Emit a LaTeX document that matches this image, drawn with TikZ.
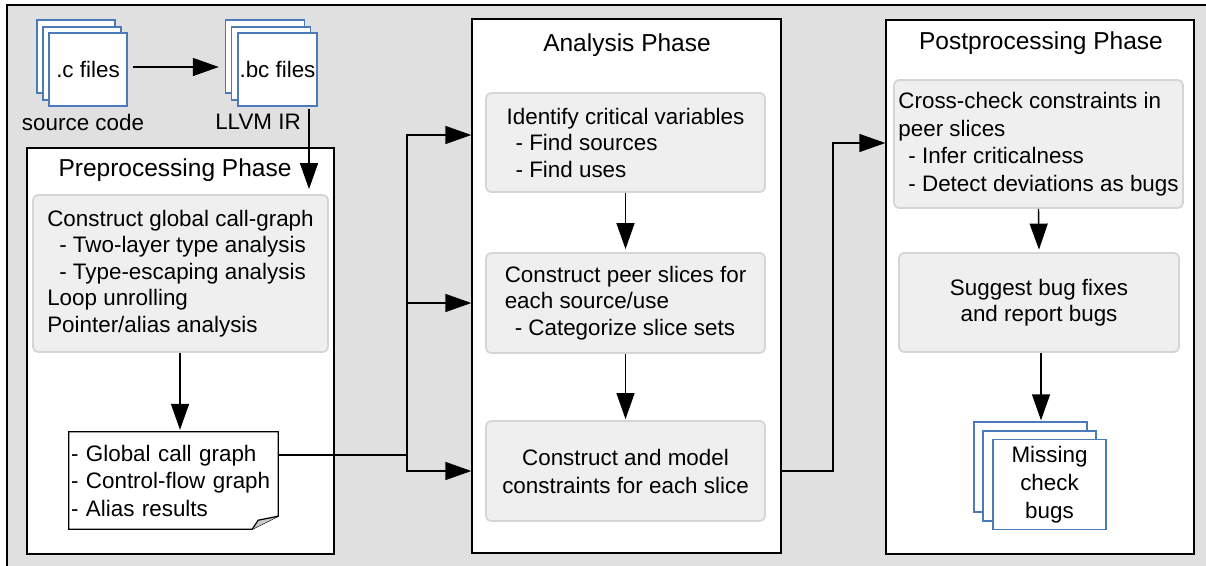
\documentclass[tikz,border=0pt]{standalone}
\usepackage{fontspec}
\setmainfont{Liberation Sans}
\usetikzlibrary{arrows.meta,calc}
\definecolor{bggray}{HTML}{E0E0E0}
\definecolor{boxfill}{HTML}{EFEFEF}
\definecolor{boxline}{HTML}{D5D5D5}
\definecolor{fileblue}{HTML}{4A7AB8}
\definecolor{foldgray}{HTML}{C8C8C8}
\begin{document}
\begin{tikzpicture}[x=1pt,y=-1pt,
  body/.style={font=\fontsize{22.4}{26.5}\selectfont},
  titletext/.style={font=\fontsize{24.5}{29}\selectfont, inner sep=0pt},
  phasebox/.style={draw=black, fill=white, line width=1.3pt, inner sep=0pt},
  graybox/.style={body, draw=boxline, fill=boxfill, line width=1.8pt, rounded corners=5pt, inner sep=0pt},
  page/.style={draw=fileblue, fill=white, line width=1.4pt, inner sep=0pt},
  conn/.style={line width=1.4pt},
  arr/.style={conn, -{Triangle[length=26pt,width=18pt]}},
]
\path[use as bounding box] (0,0) rectangle (1206,565);
\fill[bggray] (7,5) rectangle (1215,575);
\draw[line width=2pt] (7,575) -- (7,5) -- (1215,5);

% source files
\node[page, minimum width=78pt, minimum height=73pt] (cback) at (76,56.5) {};
\node[page, minimum width=78pt, minimum height=73pt] (cmid) at (82,63.5) {};
\node[page, body, minimum width=78pt, minimum height=73pt] (cfiles) at (88,69.5) {.c files};
\node[body] (srclabel) at (83,122) {source code};

\node[page, minimum width=79pt, minimum height=73pt] (bcback) at (265,56.5) {};
\node[page, minimum width=79pt, minimum height=73pt] (bcmid) at (271,63.5) {};
\node[page, body, minimum width=79pt, minimum height=73pt] (bcfiles) at (277.5,69.5) {.bc files};
\node[body] (irlabel) at (258,122) {LLVM IR};

% preprocessing phase
\node[phasebox, minimum width=307pt, minimum height=406pt] (pre) at (180.5,351) {};
\node[titletext] (pretitle) at (175,170) {Preprocessing Phase};
\node[graybox, align=left, minimum width=295pt, minimum height=157pt] (pregray) at (180.5,273.5)
  {Construct global call-graph\\\hspace*{12pt}- Two-layer type analysis\\\hspace*{12pt}- Type-escaping analysis\\Loop unrolling\\Pointer/alias analysis};
\node[font=\fontsize{22.4}{27.5}\selectfont, align=left, inner xsep=2pt, inner ysep=0pt, text width=205pt, minimum height=97pt] (notes) at (173.5,480.5)
  {- Global call graph\\- Control-flow graph\\- Alias results};
\draw[line width=1.2pt] (notes.north west) -- (notes.north east) -- ([yshift=13pt]notes.south east) -- ([xshift=-26pt]notes.south east) -- (notes.south west) -- cycle;
\filldraw[fill=foldgray, line width=1.2pt] ([yshift=13pt]notes.south east) -- ([xshift=-20pt,yshift=9pt]notes.south east) -- ([xshift=-26pt]notes.south east);

% analysis phase
\node[phasebox, minimum width=309pt, minimum height=534pt] (anal) at (626.5,286) {};
\node[titletext] (analtitle) at (627,45) {Analysis Phase};
\node[graybox, align=left, minimum width=279pt, minimum height=99pt] (a1) at (625.5,142.5)
  {Identify critical variables\\\hspace*{9pt}- Find sources\\\hspace*{9pt}- Find uses};
\node[graybox, align=left, minimum width=279pt, minimum height=100pt] (a2) at (625.5,303)
  {Construct peer slices for\\each source/use\\\hspace*{10pt}- Categorize slice sets};
\node[graybox, font=\fontsize{22.4}{28}\selectfont, align=center, minimum width=279pt, minimum height=100pt] (a3) at (625.5,471)
  {Construct and model\\constraints for each slice};

% postprocessing phase
\node[phasebox, minimum width=308pt, minimum height=534pt] (post) at (1040,287) {};
\node[titletext] (posttitle) at (1041,43) {Postprocessing Phase};
\node[graybox, font=\fontsize{22.4}{27.5}\selectfont, align=left, minimum width=289pt, minimum height=128pt] (p1) at (1038.5,144)
  {Cross-check constraints in\\peer slices\\\hspace*{10pt}- Infer criticalness\\\hspace*{10pt}- Detect deviations as bugs};
\node[graybox, align=center, minimum width=280pt, minimum height=99pt] (p2) at (1039,302.5)
  {Suggest bug fixes\\and report bugs};
\node[page, minimum width=113pt, minimum height=90pt] (bugback) at (1030.5,467) {};
\node[page, minimum width=113pt, minimum height=90pt] (bugmid) at (1039.5,476) {};
\node[page, font=\fontsize{22.4}{28}\selectfont, align=center, minimum width=113pt, minimum height=90pt] (bugs) at (1049.5,484.5)
  {Missing\\check\\bugs};

% connectors
\coordinate (split) at (407,455);
\coordinate (bend) at (833,300);
\draw[arr] ([xshift=5pt,yshift=2.5pt]cfiles.east) -- ([xshift=-6pt,yshift=-10.5pt]bcback.west);
\draw[arr] ([xshift=31.5pt,yshift=-2pt]bcfiles.south) -- ([xshift=128.5pt,yshift=5pt]pregray.north);
\draw[arr] ([xshift=-0.5pt]pregray.south) -- ([xshift=6.5pt,yshift=2pt]notes.north);
\draw[conn] ([yshift=25.5pt]notes.east) -- (split);
\draw[arr] (split) |- ([yshift=151pt]anal.west);
\draw[arr] (split) |- ([yshift=-17pt]anal.west);
\draw[arr] (split) |- ([yshift=-185pt]anal.west);
\draw[arr] (a1.south) -- ([yshift=3pt]a2.north);
\draw[arr] (a2.south) -- ([yshift=1pt]a3.north);
\draw[arr] ([yshift=-185pt]anal.east) -| (bend) |- ([yshift=144pt]post.west);
\draw[arr] (p1.south) -- ([yshift=2.5pt]p2.north);
\draw[arr] ([xshift=2pt]p2.south) -- ([xshift=10.5pt,yshift=1pt]bugback.north);
\end{tikzpicture}
\end{document}
